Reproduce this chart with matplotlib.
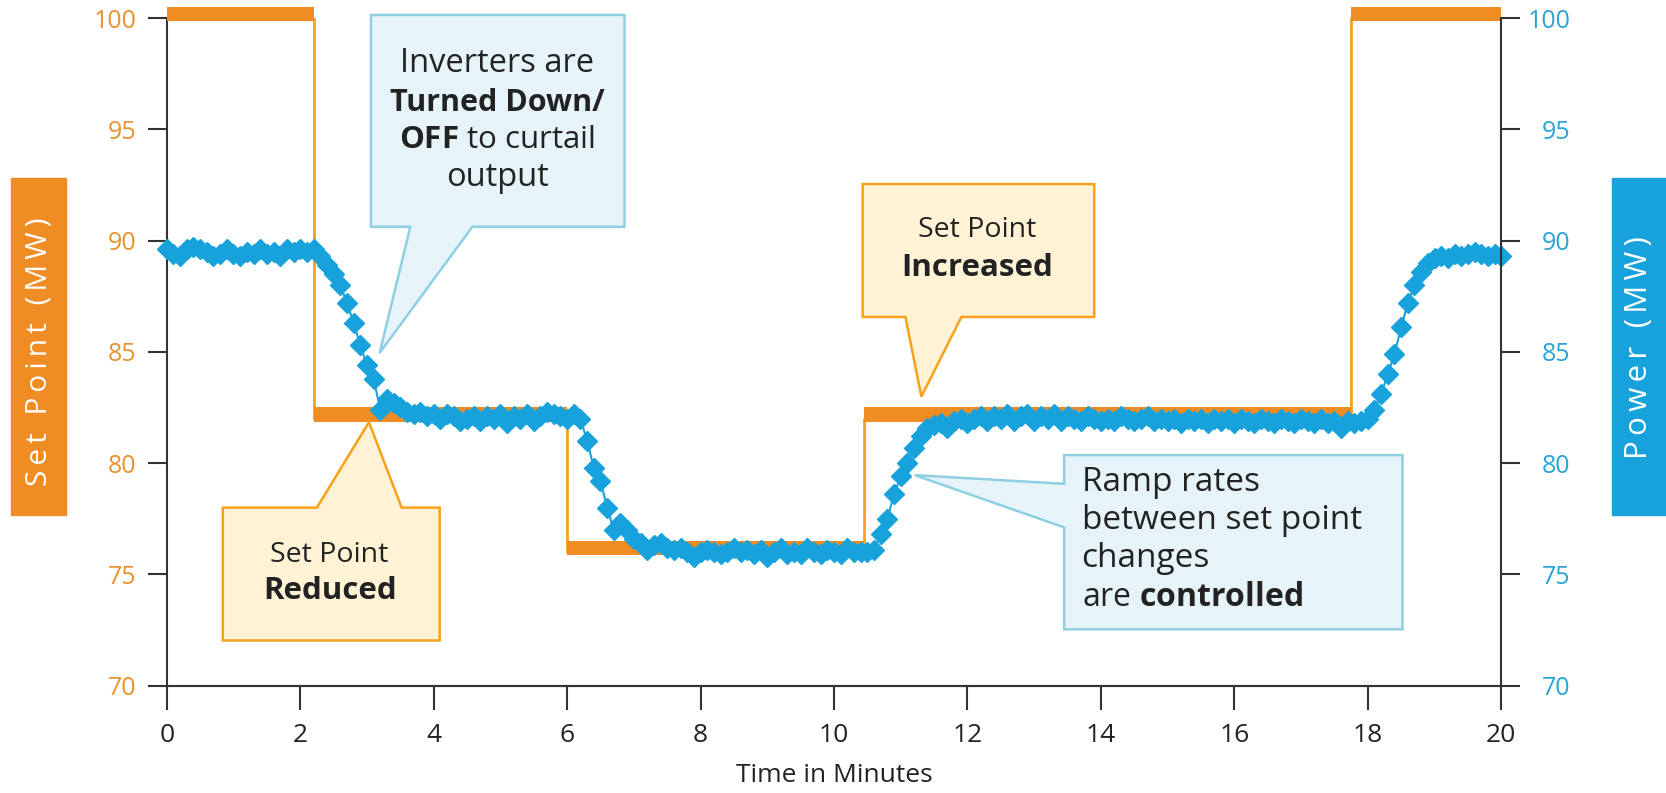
import numpy as np
import matplotlib.pyplot as plt
from matplotlib.patches import Polygon, Rectangle

plt.rcParams['font.family'] = ['Open Sans', 'DejaVu Sans']
plt.rcParams['mathtext.fontset'] = 'custom'
plt.rcParams['mathtext.rm'] = 'Open Sans'
plt.rcParams['mathtext.bf'] = 'Open Sans:bold'

# set point schedule (minutes / MW)
sp_start = [0.0, 2.2, 6.0, 10.45, 17.75]
sp_end = [2.2, 6.0, 10.45, 17.75, 20.0]
sp_level = [100, 82, 76, 82, 100]

# measured plant output, one reading every 0.1 min (0 .. 20)
power_mw = [
    89.6, 89.4, 89.3, 89.6, 89.7, 89.6, 89.5, 89.3, 89.4, 89.6,
    89.4, 89.3, 89.5, 89.4, 89.6, 89.4, 89.5, 89.3, 89.6, 89.5,
    89.6, 89.5, 89.6, 89.3, 88.9, 88.5, 88.0, 87.2, 86.3, 85.3,
    84.4, 83.8, 82.4, 82.9, 82.7, 82.5, 82.3, 82.2, 82.3, 82.1,
    82.2, 82.0, 82.2, 82.1, 81.9, 82.0, 82.1, 81.9, 82.1, 82.0,
    82.2, 81.8, 82.1, 82.0, 82.2, 81.9, 82.1, 82.3, 82.2, 82.1,
    82.0, 82.2, 82.0, 81.0, 79.8, 79.2, 78.0, 77.0, 77.3, 77.0,
    76.6, 76.4, 76.1, 76.3, 76.4, 76.2, 76.1, 76.2, 76.0, 75.8,
    76.0, 76.1, 76.0, 75.9, 76.0, 76.2, 76.0, 76.1, 75.9, 76.1,
    75.8, 76.0, 76.2, 75.9, 76.0, 75.9, 76.2, 76.0, 75.9, 76.1,
    76.0, 75.9, 76.2, 76.0, 76.0, 76.0, 76.1, 76.8, 77.5, 78.6,
    79.4, 80.0, 80.7, 81.2, 81.6, 81.7, 81.8, 81.6, 81.9, 82.0,
    81.8, 82.0, 82.1, 81.9, 82.1, 82.0, 82.2, 81.9, 82.1, 82.2,
    81.9, 82.1, 82.0, 82.2, 81.9, 82.1, 82.0, 81.9, 82.1, 82.0,
    81.9, 82.0, 81.9, 82.1, 82.0, 81.9, 82.0, 82.1, 81.9, 82.0,
    81.9, 82.0, 81.8, 82.0, 81.9, 82.0, 81.8, 82.0, 81.9, 82.0,
    81.8, 82.0, 81.9, 81.8, 82.0, 81.9, 81.8, 82.0, 81.9, 81.8,
    82.0, 81.9, 81.8, 82.0, 81.8, 81.9, 81.6, 81.9, 81.8, 81.9,
    82.0, 82.4, 83.1, 84.0, 84.9, 86.1, 87.2, 88.0, 88.6, 89.0,
    89.2, 89.3, 89.2, 89.4, 89.3, 89.4, 89.5, 89.4, 89.3, 89.4,
    89.3,
]
time_min = np.linspace(0, 20, len(power_mw))

x_ticks = [0, 2, 4, 6, 8, 10, 12, 14, 16, 18, 20]
y_ticks = [70, 75, 80, 85, 90, 95, 100]

ORANGE = '#F08C24'
ORANGE_LINE = '#F7A01E'
ORANGE_TXT = '#E8922F'
BLUE = '#17A2DC'
BLUE_TXT = '#2AA3D5'
AXIS = '#333333'
TXT = '#222222'


def tracked(s):
    # loose letter spacing like the original axis titles
    return '\u2009'.join(s)


fig = plt.figure(figsize=(16.66, 7.93), dpi=100)
ax = fig.add_axes([0.1001, 0.1354, 0.801, 0.8418])
ax2 = ax.twinx()

# set point: thin step + thick level bars
step_x = sp_start + [sp_end[-1]]
step_y = sp_level + [sp_level[-1]]
ax.step(step_x, step_y, where='post', color=ORANGE_LINE, lw=2, zorder=2)
ax.bar(sp_start, 0.65, width=np.subtract(sp_end, sp_start),
       bottom=np.array(sp_level) - 0.15, align='edge', color=ORANGE,
       zorder=3, clip_on=False)

ax.plot(time_min, power_mw, color=BLUE, lw=1.5, marker='D', ms=10.5,
        zorder=4, clip_on=False)

ax.set_xlim(0, 20)
ax.set_ylim(70, 100)
ax2.set_ylim(70, 100)
ax.set_xticks(x_ticks)
ax.set_yticks(y_ticks)
ax2.set_yticks(y_ticks)

for a in (ax, ax2):
    a.spines['top'].set_visible(False)
    for s in a.spines.values():
        s.set_color(AXIS)
        s.set_linewidth(1.5)
ax2.spines['left'].set_visible(False)
ax.spines['right'].set_visible(False)

ax.tick_params(axis='y', length=14, width=1.5, color=AXIS,
               labelcolor=ORANGE_TXT, labelsize=18, pad=8)
ax.tick_params(axis='x', length=17, width=1.5, color=AXIS,
               labelcolor=TXT, labelsize=19, pad=10)
ax2.tick_params(axis='y', length=14, width=1.5, color=AXIS,
                labelcolor=BLUE_TXT, labelsize=18, pad=36)
for lbl in ax2.get_yticklabels():
    lbl.set_horizontalalignment('right')
ax.set_xlabel('Time in Minutes', fontsize=19, color=TXT, labelpad=11)

# axis title boxes
fig.add_artist(Rectangle((0.0064, 0.351), 0.0332, 0.425,
                         transform=fig.transFigure, color=ORANGE))
fig.text(0.0232, 0.556, tracked('Set Point (MW)'), rotation=90,
         ha='center', va='center', color='white', fontsize=21.5)
fig.add_artist(Rectangle((0.9675, 0.351), 0.0325, 0.425,
                         transform=fig.transFigure, color=BLUE))
fig.text(0.9840, 0.562, tracked('Power (MW)'), rotation=90,
         ha='center', va='center', color='white', fontsize=22.5)

# callouts
BLUE_FILL, BLUE_EDGE = '#E6F4F9', '#8FCFE2'
OR_FILL, OR_EDGE = '#FFF2D5', '#F9A11B'

callouts = [
    ([(3.06, 100.14), (6.86, 100.14), (6.86, 90.62), (4.58, 90.62),
      (3.19, 84.95), (3.65, 90.62), (3.06, 90.62)], BLUE_FILL, BLUE_EDGE),
    ([(0.84, 78.0), (2.25, 78.0), (3.03, 81.84), (3.52, 78.0),
      (4.09, 78.0), (4.09, 72.03), (0.84, 72.03)], OR_FILL, OR_EDGE),
    ([(10.43, 92.54), (13.90, 92.54), (13.90, 86.57), (11.91, 86.57),
      (11.31, 82.99), (11.07, 86.57), (10.43, 86.57)], OR_FILL, OR_EDGE),
    ([(13.45, 80.36), (18.52, 80.36), (18.52, 72.53), (13.45, 72.53),
      (13.45, 77.11), (11.21, 79.46), (13.45, 79.07)], BLUE_FILL, BLUE_EDGE),
]
for verts, fc, ec in callouts:
    ax.add_patch(Polygon(verts, closed=True, facecolor=fc, edgecolor=ec,
                         lw=1.8, zorder=6, clip_on=False))

c = dict(ha='center', va='center', color=TXT, zorder=7)
l = dict(ha='left', va='center', color=TXT, zorder=7)

ax.text(4.95, 97.95, 'Inverters are', fontsize=23.5, **c)
ax.text(4.95, 96.18, 'Turned Down/', fontsize=22, fontweight='bold', **c)
ax.text(4.95, 94.51, r'$\mathbf{OFF}$ to curtail', fontsize=22.5, **c)
ax.text(4.95, 92.83, 'output', fontsize=23.5, **c)

ax.text(2.44, 75.87, 'Set Point', fontsize=20.5, **c)
ax.text(2.44, 74.25, 'Reduced', fontsize=22.5, fontweight='bold', **c)

ax.text(12.15, 90.49, 'Set Point', fontsize=20.5, **c)
ax.text(12.15, 88.77, 'Increased', fontsize=22.5, fontweight='bold', **c)

ax.text(13.71, 79.12, 'Ramp rates', fontsize=24, **l)
ax.text(13.71, 77.40, 'between set point', fontsize=24, **l)
ax.text(13.71, 75.73, 'changes', fontsize=24, **l)
ax.text(13.71, 73.96, r'are $\mathbf{controlled}$', fontsize=23, **l)

fig.savefig('out.png', dpi=100)
